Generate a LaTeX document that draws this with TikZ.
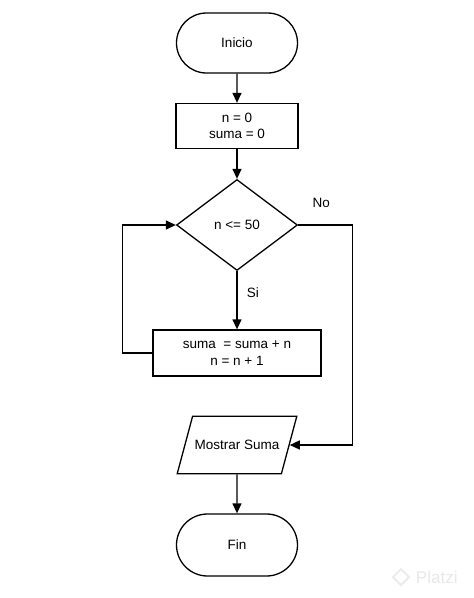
\documentclass[tikz,border=0pt]{standalone}
\usepackage{fontspec}
\setmainfont{Liberation Sans}
\usetikzlibrary{positioning, arrows.meta, shapes.geometric, shapes.misc}

\begin{document}
\begin{tikzpicture}[
  x=1pt, y=-1pt,
  font=\fontsize{13.5}{16.5}\selectfont,
  line width=1.3pt,
  terminal/.style={draw, rounded rectangle, minimum width=121pt, minimum height=60pt,
    inner sep=0pt},
  procbox/.style={draw, rectangle, align=center, minimum height=45pt, inner sep=0pt},
  decision/.style={draw, diamond, minimum width=121pt, minimum height=91pt, inner sep=0pt},
  iobox/.style={draw, trapezium, trapezium left angle=75, trapezium right angle=105,
    inner xsep=2pt, inner ysep=24pt},
  flow/.style={-{Triangle[length=10pt, width=9pt]}},
  marca/.style={text=gray!18, font=\fontsize{17}{17}\selectfont}
]
\useasboundingbox (0,0) rectangle (474,598);

% The steps, top to bottom.
\node[terminal] (inicio) at (237,43) {Inicio};
\node[procbox, minimum width=122pt] (init) at (237,126) {n = 0\\suma = 0};
\node[decision] (cond) at (237,225) {n <= 50};
\node[procbox, minimum width=168pt, minimum height=46pt] (proceso) at (237,353)
  {suma~ = suma + n\\n = n + 1};
\node[iobox] (mostrar) at (237,445) {Mostrar Suma};
\node[terminal, minimum height=62pt] (fin) at (237,545) {Fin};

% straight flow
\draw[flow] (inicio) -- (init);
\draw[flow] (init) -- (cond);
\draw[flow] (cond) -- node[pos=0.37, right=6pt] {Si} (proceso);
\draw[flow] (mostrar) -- (fin);

% loop back to the test
\draw[flow] (proceso.west) -- ++(-30,0) |- (cond.west);

% exit of the loop
\draw[flow] (cond.east) -- node[above=13pt, xshift=-4pt] {No} ++(54,0) |- (mostrar.east);

% watermark
\node[draw=gray!15, line width=2pt, diamond, minimum size=17pt, inner sep=0pt] (logo)
  at (401,577) {};
\node[marca, anchor=west] (platzi) at (412,577) {Platzi};

\end{tikzpicture}
\end{document}
